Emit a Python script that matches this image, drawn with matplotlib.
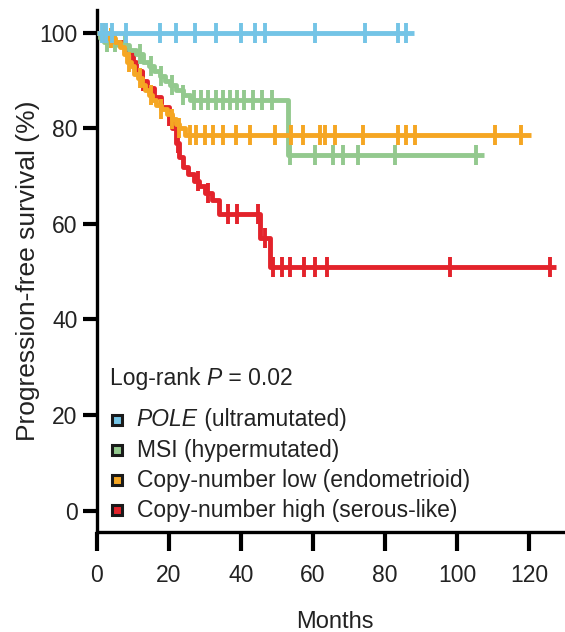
import numpy as np
import matplotlib
matplotlib.use("Agg")
import matplotlib.pyplot as plt

plt.rcParams['font.family'] = ['Liberation Sans', 'DejaVu Sans']

# Kaplan-Meier step points (months, % progression-free) and censor times
pole_t = [0]
pole_s = [100]
pole_end = 88
pole_cens = [1.4, 2.5, 4.2, 8.3, 17.6, 22, 27.3, 33.1, 40, 43.9, 46.7, 60.6, 74.4, 83.6, 85.9]

msi_t = [0, 1, 2, 6, 9, 11, 13, 14.5, 16, 17.5, 19, 20.5, 22, 24, 26, 53]
msi_s = [100, 99, 98, 97.5, 96.5, 95.5, 94, 93, 92, 91, 90, 89, 88, 87, 86, 74.5]
msi_end = 107.5
msi_cens = [3, 5, 8, 12, 15, 18, 21, 24, 27, 29, 31, 33, 35, 37, 39, 41, 43.5, 46, 48.6,
            53.6, 60.5, 65.6, 68.4, 72.5, 82.7, 105.3]

cnl_t = [0, 3, 5, 6.5, 7.5, 8.5, 9.5, 10.5, 11.5, 12.5, 13.5, 14.5, 15.5, 16.5,
         18, 19.5, 21, 22, 23, 24.5]
cnl_s = [100, 99, 98, 97, 95.5, 94, 93, 91.5, 90.5, 89, 88, 87, 86, 85,
         84, 83, 82, 81, 80, 78.6]
cnl_end = 120.5
cnl_cens = [2, 4, 9, 12, 15, 18, 21, 23, 25.9, 27.7, 30, 32.3, 35.1, 38.8, 42.5,
            49.4, 54, 57.3, 61.9, 63.3, 66.1, 73.9, 83.6, 85.9, 88.2, 110.4, 117.8]

cnh_t = [0, 3, 8, 10, 11, 12.5, 14, 16, 18, 20, 21, 22, 23, 24, 25.5, 27, 28.5,
         30, 32, 34, 45.3, 48]
cnh_s = [100, 98, 96, 94, 92, 90, 88.5, 86.5, 84.5, 82.5, 80, 77, 74, 72, 70.5,
         69, 68, 66.5, 65, 62, 57, 51]
cnh_end = 127.5
cnh_cens = [13, 20, 22.5, 28, 31, 36.4, 38.9, 44.7, 46.6, 49, 51.3, 53.6, 57.5,
            60.5, 63.8, 97.9, 125.6]

labels = ['POLE', 'MSI (hypermutated)', 'Copy-number low (endometrioid)',
          'Copy-number high (serous-like)']
colors = ['#74C4E6', '#93C98E', '#F5A623', '#E3232B']

fig = plt.figure(figsize=(5.65, 6.32), dpi=100)
ax = fig.add_axes([0.1708, 0.1582, 0.83, 0.826])


def km(t, s, end, cens, color, z):
    tt = list(t) + [end]
    ss = list(s) + [s[-1]]
    ax.plot(tt, ss, drawstyle='steps-post', color=color, lw=3.5,
            solid_capstyle='butt', zorder=z)
    idx = np.searchsorted(t, cens, side='right') - 1
    ax.plot(cens, np.array(s)[idx], ls='none', marker='|', ms=14, mew=2.8,
            color=color, zorder=z)


km(cnh_t, cnh_s, cnh_end, cnh_cens, colors[3], 2)
km(msi_t, msi_s, msi_end, msi_cens, colors[1], 3)
km(cnl_t, cnl_s, cnl_end, cnl_cens, colors[2], 4)
km(pole_t, pole_s, pole_end, pole_cens, colors[0], 5)

txt = '#222222'
ax.set_xlim(0, 130)
ax.set_ylim(-4.5, 104.8)
ax.set_xticks([0, 20, 40, 60, 80, 100, 120])
ax.set_yticks([0, 20, 40, 60, 80, 100])
for side in ['top', 'right']:
    ax.spines[side].set_visible(False)
for side in ['left', 'bottom']:
    ax.spines[side].set_linewidth(2.4)
ax.tick_params(axis='x', length=14, width=3, direction='out', labelsize=16.5,
               pad=9, labelcolor=txt)
ax.tick_params(axis='y', length=10, width=3, direction='out', labelsize=16.5,
               pad=3.6, labelcolor=txt)
ax.set_xlabel('Months', fontsize=17, color=txt)
ax.set_ylabel('Progression-free survival (%)', fontsize=19, color=txt)
ax.xaxis.set_label_coords(0.508, -0.152)
ax.yaxis.set_label_coords(-0.12, 0.5)

# legend block
fs = 16.5
t1 = ax.text(3.7, 27.7, 'Log-rank ', fontsize=fs, va='center', color=txt)
t2 = ax.annotate('P', xy=(1, 0), xycoords=t1, va='bottom', fontsize=fs,
                 style='italic', color=txt)
ax.annotate(' = 0.02', xy=(1, 0), xycoords=t2, va='bottom', fontsize=fs,
            color=txt)

rows = [19.0, 12.6, 6.3, 0.1]
for y, lab, c in zip(rows, labels, colors):
    ax.plot([5.6], [y], marker='s', ms=7, mfc=c, mec='#1a1a1a', mew=2.2,
            ls='none', zorder=6)
    if lab == 'POLE':
        p = ax.text(11.1, y, 'POLE', fontsize=fs, va='center', style='italic',
                    color=txt)
        ax.annotate(' (ultramutated)', xy=(1, 0), xycoords=p, va='bottom',
                    fontsize=fs, color=txt)
    else:
        ax.text(11.1, y, lab, fontsize=fs, va='center', color=txt)

fig.savefig('out.png', dpi=100)
